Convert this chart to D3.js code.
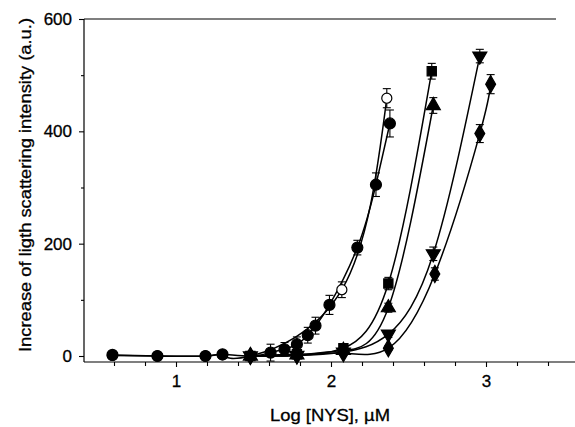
<!DOCTYPE html>
<html><head><meta charset="utf-8">
<script src="https://cdn.jsdelivr.net/npm/d3@7"></script>
<style>body{margin:0;background:#fff}svg{display:block}text{font-family:"Liberation Sans",Arial,sans-serif;fill:#000}</style>
</head><body><svg id="c" width="575" height="427"></svg>
<script>
// ---- data ----
const openCircleX = [0.59, 0.88, 1.19, 1.30, 1.48, 2.07, 2.36];
const openCircleY = [1, 0, 0, 2, 0, 118, 459];
const openCircleE = [0, 0, 0, 0, 0, 14, 17];

const filledCircleX = [0.59, 0.88, 1.19, 1.30, 1.48, 1.61, 1.70, 1.78, 1.85, 1.90, 1.99, 2.17, 2.29, 2.38];
const filledCircleY = [2, 0, 0, 3, 0, 6, 12, 21, 37, 54, 91, 193, 305, 414];
const filledCircleE = [0, 0, 0, 0, 0, 15, 12, 13, 14, 15, 17, 13, 21, 24];

const squareX = [1.48, 1.78, 2.08, 2.37, 2.65];
const squareY = [0, 3, 14, 129, 507];
const squareE = [0, 0, 5, 11, 14];

const triUpX = [1.48, 1.78, 2.08, 2.37, 2.66];
const triUpY = [0, 2, 10, 86, 446];
const triUpE = [0, 0, 4, 8, 14];

const triDownX = [1.48, 1.78, 2.08, 2.37, 2.66, 2.96];
const triDownY = [0, 1, 7, 39, 182, 534];
const triDownE = [0, 0, 3, 6, 12, 12];

const diamondX = [1.48, 1.78, 2.08, 2.37, 2.67, 2.96, 3.03];
const diamondY = [0, 1, 5, 14, 146, 396, 484];
const diamondE = [0, 0, 3, 4, 11, 16, 17];

const yMajorTicks = [0, 200, 400, 600];
const yMinorTicks = [100, 300, 500];
const xMajorTicks = [1, 2, 3];
const xMinorTicks = [0.6, 0.8, 1.2, 1.4, 1.6, 1.8, 2.2, 2.4, 2.6, 2.8, 3.2, 3.4];
const xLabel = "Log [NYS], \u00b5M";
const yLabel = "Increase of ligth scattering intensity (a.u.)";

// ---- chart ----
const svg = d3.select("#c");
const x = d3.scaleLinear().domain([0.4, 3.6]).range([83, 579]);
const y = d3.scaleLinear().domain([0, 600]).range([356, 19]);
const axisY = 362;

const zip = (xs, ys, es) => xs.map((v, i) => ({x: v, y: ys[i], e: es[i]}));
const series = [
  {d: zip(openCircleX, openCircleY, openCircleE), sym: d3.symbolCircle, size: 80, rot: 0, fill: "#fff"},
  {d: zip(squareX, squareY, squareE), sym: d3.symbolSquare, size: 85, rot: 0, fill: "#000"},
  {d: zip(triUpX, triUpY, triUpE), sym: d3.symbolTriangle, size: 85, rot: 0, fill: "#000"},
  {d: zip(triDownX, triDownY, triDownE), sym: d3.symbolTriangle, size: 85, rot: 180, fill: "#000"},
  {d: zip(diamondX, diamondY, diamondE), sym: d3.symbolDiamond, size: 85, rot: 0, fill: "#000"},
  {d: zip(filledCircleX, filledCircleY, filledCircleE), sym: d3.symbolCircle, size: 95, rot: 0, fill: "#000"}
];

// frame
svg.append("line").attr("x1", 84).attr("x2", 556).attr("y1", 19).attr("y2", 19)
  .attr("stroke", "#000").attr("stroke-width", 1.2);

// axes
const gy = svg.append("g").attr("transform", "translate(84,0)");
gy.call(d3.axisLeft(y).tickValues(yMajorTicks).tickSize(5).tickPadding(7));
gy.append("g").call(d3.axisLeft(y).tickValues(yMinorTicks).tickSize(3).tickFormat(""));
gy.selectAll(".domain").remove();
gy.append("line").attr("x1", 0).attr("x2", 0).attr("y1", 19).attr("y2", axisY).attr("stroke", "#000").attr("stroke-width", 1.2);

const gx = svg.append("g").attr("transform", `translate(0,${axisY})`);
gx.call(d3.axisBottom(x).tickValues(xMajorTicks).tickSize(5).tickPadding(8).tickFormat(d3.format("d")));
gx.append("g").call(d3.axisBottom(x).tickValues(xMinorTicks).tickSize(4).tickFormat(""));
gx.selectAll(".domain").remove();
gx.append("line").attr("x1", 84).attr("x2", 575).attr("y1", 0).attr("y2", 0).attr("stroke", "#000").attr("stroke-width", 1.2);

svg.selectAll(".tick line").attr("stroke", "#000").attr("stroke-width", 1.1);
svg.selectAll(".tick text").attr("font-size", 17).attr("font-family", "Liberation Sans, Arial, sans-serif")
  .attr("stroke", "#000").attr("stroke-width", 0.3);

// labels
svg.append("text").attr("x", 330).attr("y", 421).attr("text-anchor", "middle")
  .attr("font-size", 16.5).attr("textLength", 120).attr("lengthAdjust", "spacingAndGlyphs")
  .attr("stroke", "#000").attr("stroke-width", 0.3).text(xLabel);
svg.append("text").attr("transform", "translate(31,185) rotate(-90)").attr("text-anchor", "middle")
  .attr("font-size", 16).attr("textLength", 334).attr("lengthAdjust", "spacingAndGlyphs")
  .attr("stroke", "#000").attr("stroke-width", 0.3).text(yLabel);

// curves
const line = d3.line().x(d => x(d.x)).y(d => y(d.y)).curve(d3.curveNatural);
const plot = svg.append("g");
series.forEach(s => {
  plot.append("path").attr("d", line(s.d)).attr("fill", "none").attr("stroke", "#000").attr("stroke-width", 1.5);
});
// error bars
series.forEach(s => {
  const g = plot.append("g");
  s.d.filter(p => p.e > 0).forEach(p => {
    const cx = x(p.x), y1 = y(p.y + p.e), y2 = y(p.y - p.e);
    g.append("line").attr("x1", cx).attr("x2", cx).attr("y1", y1).attr("y2", y2).attr("stroke", "#000").attr("stroke-width", 1.1);
    [y1, y2].forEach(yy => g.append("line").attr("x1", cx - 4).attr("x2", cx + 4).attr("y1", yy).attr("y2", yy).attr("stroke", "#000").attr("stroke-width", 1.1));
  });
});
// markers
series.forEach(s => {
  plot.append("g").selectAll("path").data(s.d).join("path")
    .attr("transform", d => `translate(${x(d.x)},${y(d.y)}) rotate(${s.rot})`)
    .attr("d", d3.symbol().type(s.sym).size(s.size))
    .attr("fill", s.fill).attr("stroke", "#000").attr("stroke-width", 1.2);
});
</script></body></html>
